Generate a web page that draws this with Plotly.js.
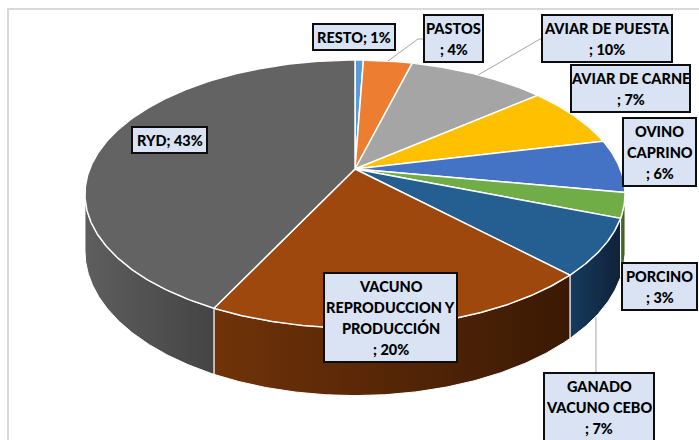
<!DOCTYPE html>
<html><head><meta charset="utf-8">
<script src="https://cdn.plot.ly/plotly-3.0.1.min.js"></script>
<style>html,body{margin:0;padding:0;background:#fff}#chart{width:699px;height:440px}</style>
</head><body><div id="chart"></div>
<script>
// ---- data (clockwise from the top) ----
const categories = ['RESTO','PASTOS','AVIAR DE PUESTA','AVIAR DE CARNE','OVINO CAPRINO','PORCINO','GANADO VACUNO CEBO','VACUNO REPRODUCCION Y PRODUCCIÓN','RYD'];
const values = [0.6, 3.5, 9.9, 7.4, 6.4, 3.0, 6.8, 19.7, 42.7];
const nameLines = [['RESTO'],['PASTOS'],['AVIAR DE PUESTA'],['AVIAR DE CARNE'],['OVINO','CAPRINO'],['PORCINO'],['GANADO','VACUNO CEBO'],['VACUNO','REPRODUCCION Y','PRODUCCIÓN'],['RYD']];
const percentSameLine = [true,false,false,false,false,false,false,false,true];

// ---- style ----
const topColors = ['#5B9BD5','#ED7D31','#A5A5A5','#FFC000','#4472C4','#70AD47','#255E91','#9E480E','#636363'];
const sideLeft  = ['#3f6d96','#a6561f','#777777','#b38600','#2f5089','#4a7a2e','#173a5e','#703309','#5e5e5e'];
const sideRight = ['#2f5273','#7a3f16','#5a5a5a','#8a6700','#223b66','#35591f','#0f2238','#3a1904','#444444'];
const labelBoxes = [[313,24,82],[424,15,59],[542,15,130],[571,65,119],[623,118,73],[622,263,75],[544,373,110],[324,273,133],[132,127,75]];
const leaders = {1:{frac:0.5,wall:false,via:[[418,39],[424,39]]},2:{frac:0.5,wall:false,via:[[540,39],[542,39]]},6:{frac:0.62,wall:true,via:[null]}};

// ---- projection of the tilted disk ----
const CX=355, CY=169, A=265.3, B=129.3, K=-0.1866, D0=55;
function proj(theta){
  const t=theta*Math.PI/180, u=Math.sin(t), v=-Math.cos(t), d=1+K*v;
  return {x:CX+A*u/d, y:CY+B*v/d, depth:D0/d};
}
const total = values.reduce((a,b)=>a+b,0);
const starts=[], ends=[];
let acc=0;
values.forEach(v=>{starts.push(acc/total*360); acc+=v; ends.push(acc/total*360);});

function arc(a,b){
  const pts=[]; const n=Math.max(2,Math.ceil(Math.abs(b-a)/0.5));
  for(let i=0;i<=n;i++){pts.push(proj(a+(b-a)*i/n));}
  return pts;
}
const traces=[];
// side walls (visible front part)
const vis0 = Math.acos(K)*180/Math.PI, vis1 = 360-vis0;
values.forEach((v,i)=>{
  const a=Math.max(starts[i],vis0), b=Math.min(ends[i],vis1);
  if(b<=a) return;
  const top=arc(a,b), bot=arc(b,a);
  const xs=top.map(p=>p.x).concat(bot.map(p=>p.x)), ys=top.map(p=>p.y).concat(bot.map(p=>p.y+p.depth));
  xs.push(xs[0]); ys.push(ys[0]);
  traces.push({type:'scatter',mode:'lines',x:xs,y:ys,fill:'toself',fillcolor:sideRight[i],
    fillgradient:{type:'horizontal',colorscale:[[0,sideLeft[i]],[1,sideRight[i]]]},
    line:{color:'#ffffff',width:1},hoverinfo:'skip',showlegend:false});
});
// top faces
values.forEach((v,i)=>{
  const pts=arc(starts[i],ends[i]);
  const xs=[CX].concat(pts.map(p=>p.x)).concat([CX]);
  const ys=[CY].concat(pts.map(p=>p.y)).concat([CY]);
  traces.push({type:'scatter',mode:'lines',x:xs,y:ys,fill:'toself',fillcolor:topColors[i],
    line:{color:'#ffffff',width:1.5},hoverinfo:'skip',showlegend:false,name:categories[i]});
});
// leader lines
Object.keys(leaders).forEach(k=>{
  const i=+k, L=leaders[k];
  const p=proj(starts[i]+(ends[i]-starts[i])*L.frac);
  const x0=p.x, y0=L.wall? p.y+p.depth : p.y;
  const xs=[x0], ys=[y0];
  if(L.wall){ xs.push(x0); ys.push(labelBoxes[i][1]); }
  else L.via.forEach(q=>{xs.push(q[0]); ys.push(q[1]);});
  traces.push({type:'scatter',mode:'lines',x:xs,y:ys,line:{color:'#A6A6A6',width:1},hoverinfo:'skip',showlegend:false});
});

// labels
const shapes=[{type:'rect',xref:'x',yref:'y',x0:8,y0:9,x1:760,y1:500,line:{color:'#D9D9D9',width:2},layer:'below'}];
const annotations=[];
values.forEach((v,i)=>{
  const pct='; '+Math.round(v/total*100)+'%';
  let lines=nameLines[i].slice();
  if(percentSameLine[i]) lines[lines.length-1]+=pct; else lines.push(pct);
  const [bx,by,bw]=labelBoxes[i]; const bh=26+21*(lines.length-1);
  shapes.push({type:'rect',xref:'x',yref:'y',x0:bx,y0:by,x1:bx+bw,y1:by+bh,fillcolor:'#DAE3F3',line:{color:'#0d0d0d',width:2},layer:'above'});
  lines.forEach((t,j)=>{
    annotations.push({xref:'x',yref:'y',x:bx+bw/2,y:by+13+21*j,text:t,showarrow:false,
      xanchor:'center',yanchor:'middle',font:{family:'Lato, sans-serif',size:14.5,color:'#000000',weight:900}});
  });
});

const layout={width:699,height:440,margin:{l:0,r:0,t:0,b:0,pad:0},paper_bgcolor:'#ffffff',plot_bgcolor:'#ffffff',
  xaxis:{range:[0,699],visible:false,fixedrange:true},
  yaxis:{range:[440,0],visible:false,fixedrange:true},
  showlegend:false,hovermode:false,shapes:shapes,annotations:annotations};
Plotly.newPlot('chart',traces,layout,{displayModeBar:false,staticPlot:true});
</script></body></html>
